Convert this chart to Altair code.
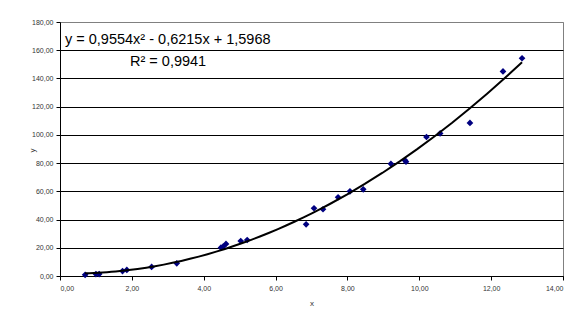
import altair as alt
import pandas as pd

xs = [0.70, 1.00, 1.09, 1.74, 1.86, 2.55, 3.25, 4.48, 4.54, 4.62, 5.03, 5.21,
      6.85, 7.07, 7.32, 7.74, 8.07, 8.44, 9.21, 9.60, 9.63, 10.20, 10.58, 11.41,
      12.33, 12.86]
ys = [0.8, 1.4, 1.4, 3.5, 4.3, 6.4, 9.0, 20.1, 20.8, 22.7, 24.8, 25.5,
      36.6, 48.0, 47.3, 55.8, 60.0, 61.4, 79.5, 82.0, 81.0, 98.5, 101.0, 108.5,
      145.0, 154.3]
eq_text = ["y = 0,9554x² - 0,6215x + 1,5968", "R² = 0,9941"]
x_ticks = [0, 2, 4, 6, 8, 10, 12, 14]
y_ticks = [0, 20, 40, 60, 80, 100, 120, 140, 160, 180]

df = pd.DataFrame({"x": xs, "y": ys})
lab = "replace(format(datum.value, '.2f'), '.', ',')"

base = alt.Chart(df)

xenc = alt.X("x:Q", title="x", scale=alt.Scale(domain=[0, 14], nice=False),
             axis=alt.Axis(values=x_ticks, labelExpr=lab, grid=False, labelOverlap=False,
                           labelFontSize=7, labelColor="#333", titleFontSize=8,
                           titleFontWeight="normal", titleColor="#333", titlePadding=8,
                           domainColor="#000", tickColor="#000", tickSize=4,
                           labelPadding=4, labelFont="Liberation Sans", titleFont="Liberation Sans"))
yenc = alt.Y("y:Q", title="y", scale=alt.Scale(domain=[0, 180], nice=False),
             axis=alt.Axis(values=y_ticks, labelExpr=lab, grid=True, labelOverlap=False,
                           gridColor={"condition": {"test": "datum.value == 180", "value": "#808080"},
                                      "value": "#000000"},
                           gridWidth=1, labelFontSize=7, labelColor="#333",
                           titleFontSize=8, titleFontWeight="normal", titleColor="#333",
                           titleAngle=270, titleX=-24, titleY=128,
                           domainColor="#000", tickColor="#000", tickSize=4,
                           labelPadding=3, labelFont="Liberation Sans", titleFont="Liberation Sans"))

pts = base.mark_point(shape="diamond", filled=True, color="#000080", size=45, opacity=1).encode(
    x=xenc, y=yenc)

fit = base.transform_regression("x", "y", method="poly", order=2).mark_line(
    color="#000", strokeWidth=2).encode(x=xenc, y=yenc)

eqdf = pd.DataFrame({"t": eq_text, "i": [0, 1]})
t1 = alt.Chart(eqdf).transform_filter("datum.i == 0").mark_text(
    align="left", baseline="middle", fontSize=14.5, font="Liberation Sans", color="#000"
).encode(text="t:N", x=alt.value(5), y=alt.value(18))
t2 = alt.Chart(eqdf).transform_filter("datum.i == 1").mark_text(
    align="left", baseline="middle", fontSize=14.5, font="Liberation Sans", color="#000"
).encode(text="t:N", x=alt.value(70), y=alt.value(40))

chart = alt.layer(pts, fit, t1, t2).properties(
    width=503, height=254,
    autosize=alt.AutoSizeParams(type="none"),
    padding={"left": 60, "top": 22, "right": 25, "bottom": 50},
    background="#ffffff",
).configure_view(stroke="#808080", strokeWidth=1)

chart.save("out.html", embed_options={"renderer": "svg", "actions": False})
